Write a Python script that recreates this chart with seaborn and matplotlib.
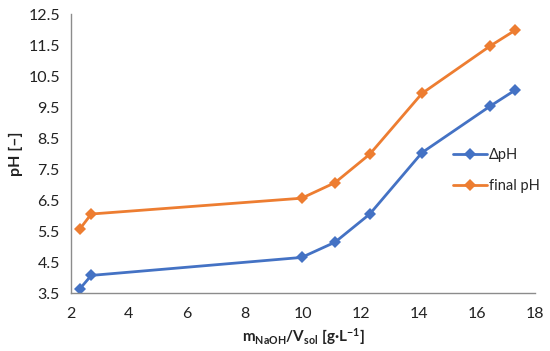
from matplotlib import pyplot as plt
import numpy as np
import pandas
import seaborn as sns

# data
conc = [2.3, 2.7, 9.95, 11.1, 12.3, 14.1, 16.45, 17.3]
delta_ph = [3.63, 4.07, 4.65, 5.14, 6.05, 8.03, 9.53, 10.04]
final_ph = [5.56, 6.05, 6.56, 7.06, 7.98, 9.94, 11.47, 11.97]
series_names = ["ΔpH", "final pH"]
colors = ["#4472C4", "#ED7D31"]
x_ticks = [2, 4, 6, 8, 10, 12, 14, 16, 18]
y_ticks = [3.5, 4.5, 5.5, 6.5, 7.5, 8.5, 9.5, 10.5, 11.5, 12.5]

dataframe = pandas.DataFrame({
    "conc": conc * 2,
    "pH": delta_ph + final_ph,
    "series": [series_names[0]] * len(conc) + [series_names[1]] * len(conc),
})

sns.set_style("white")
plt.rcParams["font.family"] = ["Lato", "DejaVu Sans"]
plt.rcParams["mathtext.fontset"] = "custom"
plt.rcParams["mathtext.rm"] = "Lato:bold"
plt.rcParams["mathtext.bf"] = "Lato:bold"
plt.rcParams["mathtext.it"] = "Lato:bold"
plt.rcParams["mathtext.default"] = "bf"

fig = plt.figure(figsize=(5.5, 3.51), dpi=100)
ax = fig.add_axes([0.129, 0.165, 0.844, 0.795])

for name, color in zip(series_names, colors):
    sub = dataframe[dataframe["series"] == name]
    sns.lineplot(data=sub, x="conc", y="pH", ax=ax, color=color, linewidth=2,
                 marker="D", markersize=6, markeredgewidth=0, label=name, sort=False)

ax.set_xlim(2, 18)
ax.set_ylim(3.5, 12.5)
ax.set_xticks(x_ticks)
ax.set_yticks(y_ticks)
ax.set_yticklabels([f"{v:.1f}" for v in y_ticks])

for side in ["top", "right"]:
    ax.spines[side].set_visible(False)
for side in ["left", "bottom"]:
    ax.spines[side].set_color("#8c8c8c")
    ax.spines[side].set_linewidth(1)
ax.tick_params(axis="both", direction="inout", length=8, width=1, color="#8c8c8c",
               labelsize=11.5, labelcolor="#222222", pad=4)
ax.tick_params(axis="x", pad=6)

ax.set_xlabel(r"$m_{NaOH}/V_{sol}$ [g·L$^{-1}$]", fontsize=11, fontweight="bold", color="#222222")
ax.set_ylabel("pH [–]", fontsize=11.5, fontweight="bold", color="#222222")

ax.legend(loc="center left", bbox_to_anchor=(0.823, 0.44), frameon=False, fontsize=10.5,
          handlelength=2.3, labelspacing=1.15, handletextpad=0.15, borderaxespad=0,
          borderpad=0)

plt.savefig("out.png", dpi=100)
